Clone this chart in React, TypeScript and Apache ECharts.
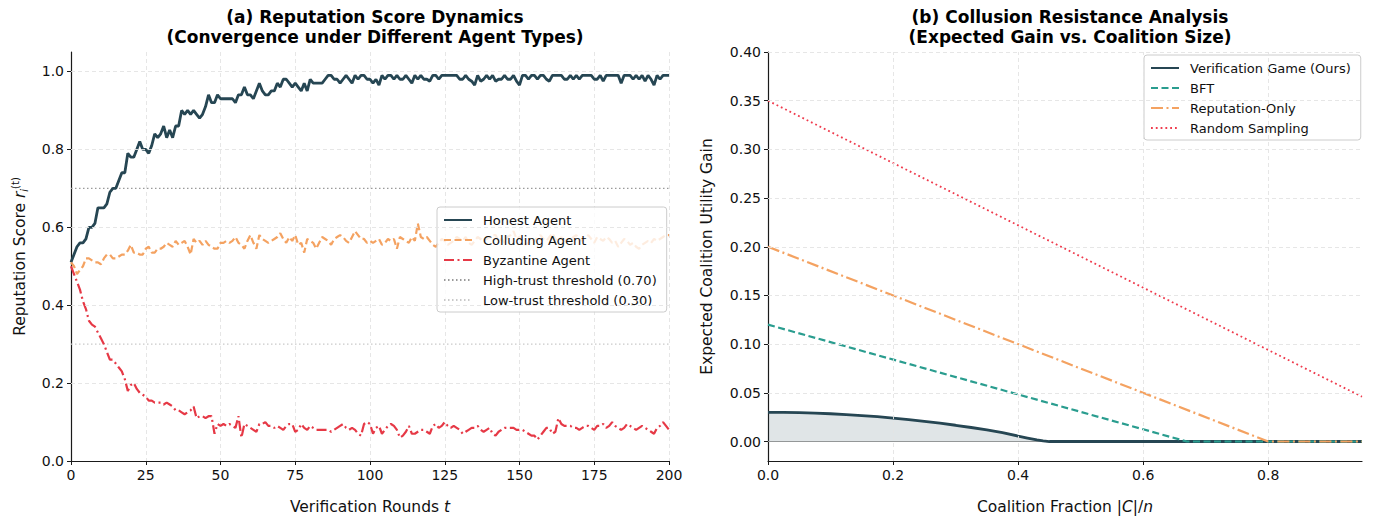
import React, { useEffect, useRef } from "react";
import * as echarts from "echarts";

// ---------- Panel (a): reputation score per verification round t = 0..200 ----------
const honestAgent = [
  0.51, 0.53, 0.55, 0.56, 0.56, 0.57, 0.60, 0.60, 0.61, 0.65,
  0.65, 0.65, 0.66, 0.69, 0.70, 0.70, 0.72, 0.74, 0.74, 0.79,
  0.78, 0.78, 0.80, 0.82, 0.80, 0.80, 0.79, 0.81, 0.84, 0.83,
  0.84, 0.86, 0.83, 0.85, 0.83, 0.86, 0.86, 0.90, 0.89, 0.90,
  0.89, 0.90, 0.89, 0.88, 0.89, 0.91, 0.94, 0.92, 0.92, 0.94,
  0.93, 0.93, 0.93, 0.93, 0.93, 0.92, 0.94, 0.94, 0.96, 0.94,
  0.94, 0.93, 0.95, 0.97, 0.95, 0.94, 0.94, 0.95, 0.95, 0.97,
  0.96, 0.98, 0.98, 0.97, 0.96, 0.97, 0.96, 0.95, 0.97, 0.95,
  0.98, 0.97, 0.97, 0.97, 0.97, 0.98, 0.99, 0.99, 0.98, 0.98,
  0.97, 0.98, 0.99, 0.98, 0.97, 0.99, 0.98, 0.99, 0.99, 0.98,
  0.98, 0.97, 0.98, 0.965, 0.99, 0.98, 0.99, 0.99, 0.98, 0.99,
  0.98, 0.98, 0.99, 0.98, 0.97, 0.99, 0.98, 0.99, 0.98, 0.98,
  0.975, 0.99, 0.99, 0.98, 0.99, 0.99, 0.99, 0.99, 0.99, 0.99,
  0.98, 0.98, 0.99, 0.98, 0.975, 0.965, 0.99, 0.975, 0.98, 0.99,
  0.98, 0.99, 0.975, 0.98, 0.98, 0.99, 0.98, 0.98, 0.99, 0.975,
  0.965, 0.99, 0.99, 0.98, 0.99, 0.99, 0.98, 0.99, 0.99, 0.98,
  0.975, 0.99, 0.99, 0.99, 0.99, 0.98, 0.98, 0.99, 0.98, 0.99,
  0.98, 0.99, 0.99, 0.99, 0.99, 0.98, 0.98, 0.99, 0.975, 0.99,
  0.99, 0.99, 0.99, 0.99, 0.97, 0.99, 0.99, 0.99, 0.98, 0.99,
  0.98, 0.99, 0.975, 0.99, 0.98, 0.965, 0.99, 0.98, 0.99, 0.99,
  0.99,
];

const colludingAgent = [
  0.51, 0.50, 0.48, 0.49, 0.50, 0.52, 0.52, 0.515, 0.51, 0.51,
  0.505, 0.52, 0.53, 0.53, 0.52, 0.52, 0.525, 0.53, 0.53, 0.54,
  0.555, 0.535, 0.535, 0.53, 0.53, 0.545, 0.55, 0.535, 0.535, 0.545,
  0.545, 0.55, 0.56, 0.555, 0.55, 0.565, 0.555, 0.56, 0.565, 0.55,
  0.53, 0.57, 0.56, 0.565, 0.555, 0.565, 0.555, 0.55, 0.545, 0.545,
  0.56, 0.56, 0.565, 0.56, 0.565, 0.575, 0.56, 0.555, 0.545, 0.565,
  0.58, 0.56, 0.545, 0.58, 0.57, 0.565, 0.56, 0.565, 0.57, 0.575,
  0.585, 0.57, 0.56, 0.575, 0.565, 0.58, 0.555, 0.56, 0.535, 0.57,
  0.565, 0.56, 0.545, 0.56, 0.575, 0.57, 0.565, 0.555, 0.57, 0.575,
  0.58, 0.575, 0.565, 0.56, 0.575, 0.59, 0.58, 0.57, 0.57, 0.56,
  0.565, 0.56, 0.565, 0.57, 0.555, 0.56, 0.57, 0.565, 0.57, 0.545,
  0.575, 0.57, 0.565, 0.56, 0.575, 0.565, 0.61, 0.575, 0.57, 0.575,
  0.565, 0.555, 0.55, 0.56, 0.57, 0.565, 0.555, 0.56, 0.565, 0.575,
  0.57, 0.565, 0.575, 0.56, 0.555, 0.565, 0.575, 0.57, 0.565, 0.57,
  0.575, 0.58, 0.58, 0.565, 0.57, 0.56, 0.575, 0.58, 0.59, 0.57,
  0.575, 0.565, 0.555, 0.56, 0.57, 0.565, 0.575, 0.58, 0.57, 0.565,
  0.575, 0.585, 0.57, 0.565, 0.575, 0.56, 0.57, 0.565, 0.575, 0.58,
  0.57, 0.565, 0.575, 0.58, 0.57, 0.56, 0.575, 0.57, 0.565, 0.575,
  0.57, 0.56, 0.565, 0.55, 0.56, 0.57, 0.565, 0.555, 0.56, 0.55,
  0.545, 0.555, 0.56, 0.565, 0.56, 0.57, 0.565, 0.57, 0.575, 0.58,
  0.58,
];

const byzantineAgent = [
  0.50, 0.48, 0.46, 0.44, 0.41, 0.39, 0.36, 0.35, 0.345, 0.33,
  0.315, 0.30, 0.28, 0.26, 0.26, 0.25, 0.24, 0.23, 0.21, 0.18,
  0.195, 0.20, 0.185, 0.175, 0.17, 0.165, 0.155, 0.155, 0.15, 0.15,
  0.15, 0.145, 0.15, 0.145, 0.14, 0.13, 0.13, 0.125, 0.12, 0.125,
  0.13, 0.14, 0.11, 0.115, 0.115, 0.11, 0.115, 0.115, 0.07, 0.095,
  0.09, 0.095, 0.09, 0.095, 0.09, 0.085, 0.115, 0.06, 0.095, 0.09,
  0.085, 0.08, 0.075, 0.095, 0.095, 0.10, 0.09, 0.09, 0.085, 0.09,
  0.085, 0.08, 0.09, 0.095, 0.095, 0.075, 0.08, 0.095, 0.085, 0.08,
  0.09, 0.085, 0.08, 0.08, 0.08, 0.08, 0.08, 0.075, 0.08, 0.085,
  0.09, 0.095, 0.085, 0.08, 0.085, 0.08, 0.07, 0.065, 0.095, 0.10,
  0.095, 0.07, 0.085, 0.09, 0.07, 0.08, 0.09, 0.095, 0.09, 0.08,
  0.06, 0.065, 0.075, 0.09, 0.07, 0.07, 0.075, 0.08, 0.08, 0.075,
  0.07, 0.09, 0.095, 0.085, 0.09, 0.10, 0.09, 0.085, 0.09, 0.085,
  0.08, 0.07, 0.075, 0.08, 0.085, 0.085, 0.09, 0.08, 0.075, 0.08,
  0.085, 0.07, 0.065, 0.075, 0.08, 0.085, 0.085, 0.085, 0.085, 0.08,
  0.08, 0.08, 0.075, 0.07, 0.065, 0.065, 0.055, 0.065, 0.075, 0.085,
  0.085, 0.07, 0.075, 0.11, 0.095, 0.09, 0.09, 0.09, 0.085, 0.085,
  0.08, 0.085, 0.09, 0.09, 0.085, 0.08, 0.09, 0.09, 0.095, 0.085,
  0.09, 0.10, 0.09, 0.085, 0.08, 0.085, 0.095, 0.09, 0.085, 0.08,
  0.085, 0.09, 0.085, 0.08, 0.075, 0.07, 0.085, 0.09, 0.10, 0.09,
  0.08,
];

const highTrust = 0.7;
const lowTrust = 0.3;
const roundsMax = 200;
const leftYTicks = [0, 0.2, 0.4, 0.6, 0.8, 1.0];

// ---------- Panel (b): expected coalition utility gain vs coalition fraction ----------
const verificationGame: [number, number][] = [
  [0, 0.03], [0.025, 0.0299], [0.05, 0.0296], [0.075, 0.0292], [0.1, 0.0285],
  [0.125, 0.0277], [0.15, 0.0267], [0.175, 0.0255], [0.2, 0.0241], [0.225, 0.0225],
  [0.25, 0.0207], [0.275, 0.0188], [0.3, 0.0167], [0.325, 0.0144], [0.35, 0.0119],
  [0.375, 0.0091], [0.4, 0.0056], [0.415, 0.0036], [0.43, 0.0016], [0.44, 0.0006],
  [0.45, 0], [0.95, 0],
];
const bft: [number, number][] = [[0, 0.12], [0.67, 0], [0.95, 0]];
const reputationOnly: [number, number][] = [[0, 0.2], [0.8, 0], [0.95, 0]];
const randomSampling: [number, number][] = [[0, 0.35], [0.95, 0.046]];
const rightXTicks = [0, 0.2, 0.4, 0.6, 0.8];
const rightYTicks = [0, 0.05, 0.1, 0.15, 0.2, 0.25, 0.3, 0.35, 0.4];

const FONT = "DejaVu Sans";
const GRID_COLOR = "#e3e3e3";
const AXIS_COLOR = "#1a1a1a";

export default function App() {
  const ref = useRef<HTMLDivElement>(null);

  useEffect(() => {
    if (!ref.current) return;
    const chart = echarts.init(ref.current, null, { renderer: "svg" });
    const pairs = (arr: number[]) => arr.map((v, i) => [i, v]);
    const gridLine = { color: GRID_COLOR, type: [4, 3], width: 0.9 };
    const axisLine = { show: true, onZero: false, lineStyle: { color: AXIS_COLOR, width: 1.2 } };
    const tickStyle = { color: AXIS_COLOR, width: 1 };
    const labelBase = { fontFamily: FONT, fontSize: 14, color: "#111" };
    const nameRich = {
      a: { fontFamily: FONT, fontSize: 15.5, color: "#111" },
      i: { fontFamily: FONT, fontSize: 15.5, color: "#111", fontStyle: "italic" },
      s: { fontFamily: FONT, fontSize: 10, color: "#111", fontStyle: "italic", padding: [8, 0, 0, 0] },
      p: { fontFamily: FONT, fontSize: 10, color: "#111", padding: [0, 0, 10, 0] },
    };
    const legendBase = {
      orient: "vertical",
      backgroundColor: "rgba(255,255,255,0.8)",
      borderColor: "#cccccc",
      borderWidth: 1,
      borderRadius: 3,
      padding: [6, 10, 5, 6],
      itemWidth: 28,
      itemHeight: 14,
      itemGap: 6,
      selectedMode: false,
      itemStyle: { opacity: 0 },
      textStyle: { fontFamily: FONT, fontSize: 13, color: "#111", lineHeight: 14, padding: [0, 0, 0, 6] },
    };
    const titleStyle = { fontFamily: FONT, fontSize: 17, fontWeight: "bold", color: "#000", lineHeight: 20 };

    const option = {
      animation: false,
      backgroundColor: "#ffffff",
      title: [
        {
          text: "(a) Reputation Score Dynamics\n(Convergence under Different Agent Types)",
          left: 370,
          top: 2,
          textAlign: "center",
          textStyle: titleStyle,
        },
        {
          text: "(b) Collusion Resistance Analysis\n(Expected Gain vs. Coalition Size)",
          left: 1065,
          top: 2,
          textAlign: "center",
          textStyle: titleStyle,
        },
      ],
      grid: [
        { left: 71, top: 52, width: 598, height: 415, containLabel: false },
        { left: 768, top: 52, width: 594, height: 415, containLabel: false },
      ],
      xAxis: [
        {
          type: "value",
          gridIndex: 0,
          min: 0,
          max: roundsMax,
          interval: 25,
          axisLine,
          axisTick: { show: true, length: 4, lineStyle: tickStyle },
          axisLabel: { ...labelBase, margin: 7 },
          splitLine: { show: true, lineStyle: gridLine },
          name: "{a|Verification Rounds }{i|t}",
          nameLocation: "middle",
          nameGap: 38,
          nameTextStyle: { rich: nameRich },
        },
        {
          type: "value",
          gridIndex: 1,
          min: 0,
          max: 0.95,
          axisLine,
          axisTick: { show: true, length: 4, lineStyle: tickStyle, customValues: rightXTicks },
          axisLabel: { ...labelBase, margin: 7, customValues: rightXTicks, formatter: (v: number) => v.toFixed(1) },
          splitLine: { show: false },
          name: "{a|Coalition Fraction |}{i|C}{a||/}{i|n}",
          nameLocation: "middle",
          nameGap: 38,
          nameTextStyle: { rich: nameRich },
        },
      ],
      yAxis: [
        {
          type: "value",
          gridIndex: 0,
          min: 0,
          max: 1.05,
          axisLine,
          axisTick: { show: true, length: 4, lineStyle: tickStyle, customValues: leftYTicks },
          axisLabel: { ...labelBase, margin: 7, customValues: leftYTicks, formatter: (v: number) => v.toFixed(1) },
          splitLine: { show: false },
          name: "{a|Reputation Score }{i|r}{s|i}{p|(t)}",
          nameLocation: "middle",
          nameGap: 41,
          nameTextStyle: { rich: nameRich },
        },
        {
          type: "value",
          gridIndex: 1,
          min: -0.02,
          max: 0.4,
          axisLine,
          axisTick: { show: true, length: 4, lineStyle: tickStyle, customValues: rightYTicks },
          axisLabel: { ...labelBase, margin: 7, customValues: rightYTicks, formatter: (v: number) => v.toFixed(2) },
          splitLine: { show: false },
          name: "{a|Expected Coalition Utility Gain}",
          nameLocation: "middle",
          nameGap: 53,
          nameTextStyle: { rich: nameRich },
        },
      ],
      legend: [
        {
          ...legendBase,
          left: 437,
          top: 207,
          data: [
            "Honest Agent",
            "Colluding Agent",
            "Byzantine Agent",
            "High-trust threshold (0.70)",
            "Low-trust threshold (0.30)",
          ],
        },
        {
          ...legendBase,
          left: 1144,
          top: 55,
          data: ["Verification Game (Ours)", "BFT", "Reputation-Only", "Random Sampling"],
        },
      ],
      series: [
        // grid helpers (dashed grid lines)
        {
          type: "line",
          name: "gridA",
          xAxisIndex: 0,
          yAxisIndex: 0,
          data: [],
          z: 1,
          silent: true,
          markLine: {
            silent: true,
            symbol: ["none", "none"],
            label: { show: false },
            lineStyle: gridLine,
            data: leftYTicks.filter((v) => v > 0).map((v) => ({ yAxis: v })),
          },
        },
        {
          type: "line",
          name: "gridB",
          xAxisIndex: 1,
          yAxisIndex: 1,
          data: [],
          z: 1,
          silent: true,
          markLine: {
            silent: true,
            symbol: ["none", "none"],
            label: { show: false },
            lineStyle: gridLine,
            data: [
              ...rightYTicks.filter((v) => v > 0).map((v) => ({ yAxis: v })),
              ...rightXTicks.filter((v) => v > 0).map((v) => ({ xAxis: v })),
            ],
          },
        },
        // Panel (a)
        {
          type: "line",
          name: "High-trust threshold (0.70)",
          xAxisIndex: 0,
          yAxisIndex: 0,
          data: [[0, highTrust], [roundsMax, highTrust]],
          symbol: "none",
          lineStyle: { color: "#9a9a9a", width: 1.2, type: [1.5, 2.5] },
          itemStyle: { color: "#9a9a9a" },
          z: 2,
        },
        {
          type: "line",
          name: "Low-trust threshold (0.30)",
          xAxisIndex: 0,
          yAxisIndex: 0,
          data: [[0, lowTrust], [roundsMax, lowTrust]],
          symbol: "none",
          lineStyle: { color: "#c9c9c9", width: 1.2, type: [1.5, 2.5] },
          itemStyle: { color: "#c9c9c9" },
          z: 2,
        },
        {
          type: "line",
          name: "Honest Agent",
          xAxisIndex: 0,
          yAxisIndex: 0,
          data: pairs(honestAgent),
          symbol: "none",
          lineStyle: { color: "#264653", width: 2.8 },
          itemStyle: { color: "#264653" },
          z: 3,
        },
        {
          type: "line",
          name: "Colluding Agent",
          xAxisIndex: 0,
          yAxisIndex: 0,
          data: pairs(colludingAgent),
          symbol: "none",
          lineStyle: { color: "#f4a261", width: 2.2, type: [7, 3.5] },
          itemStyle: { color: "#f4a261" },
          z: 3,
        },
        {
          type: "line",
          name: "Byzantine Agent",
          xAxisIndex: 0,
          yAxisIndex: 0,
          data: pairs(byzantineAgent),
          symbol: "none",
          lineStyle: { color: "#e63946", width: 2.2, type: [10, 3.5, 2, 3.5] },
          itemStyle: { color: "#e63946" },
          z: 3,
        },
        // Panel (b)
        {
          type: "line",
          name: "zeroLine",
          xAxisIndex: 1,
          yAxisIndex: 1,
          data: [[0, 0], [0.95, 0]],
          symbol: "none",
          lineStyle: { color: "#9e9e9e", width: 1.2 },
          z: 2,
          silent: true,
        },
        {
          type: "line",
          name: "Verification Game (Ours)",
          xAxisIndex: 1,
          yAxisIndex: 1,
          data: verificationGame,
          symbol: "none",
          lineStyle: { color: "#264653", width: 2.8 },
          itemStyle: { color: "#264653" },
          areaStyle: { color: "rgba(38,70,83,0.2)", origin: 0 },
          z: 3,
        },
        {
          type: "line",
          name: "BFT",
          xAxisIndex: 1,
          yAxisIndex: 1,
          data: bft,
          symbol: "none",
          lineStyle: { color: "#2a9d8f", width: 2.2, type: [7, 3.5] },
          itemStyle: { color: "#2a9d8f" },
          z: 3,
        },
        {
          type: "line",
          name: "Reputation-Only",
          xAxisIndex: 1,
          yAxisIndex: 1,
          data: reputationOnly,
          symbol: "none",
          lineStyle: { color: "#f4a261", width: 2.2, type: [12, 3.5, 2, 3.5] },
          itemStyle: { color: "#f4a261" },
          z: 3,
        },
        {
          type: "line",
          name: "Random Sampling",
          xAxisIndex: 1,
          yAxisIndex: 1,
          data: randomSampling,
          symbol: "none",
          lineStyle: { color: "#ef3b4d", width: 1.8, type: [1.8, 3] },
          itemStyle: { color: "#ef3b4d" },
          z: 3,
        },
      ],
    };

    chart.setOption(option as any);
    return () => chart.dispose();
  }, []);

  return (
    <div
      ref={ref}
      style={{ position: "absolute", left: 0, top: 0, width: 1375, height: 520, background: "#fff" }}
    />
  );
}
